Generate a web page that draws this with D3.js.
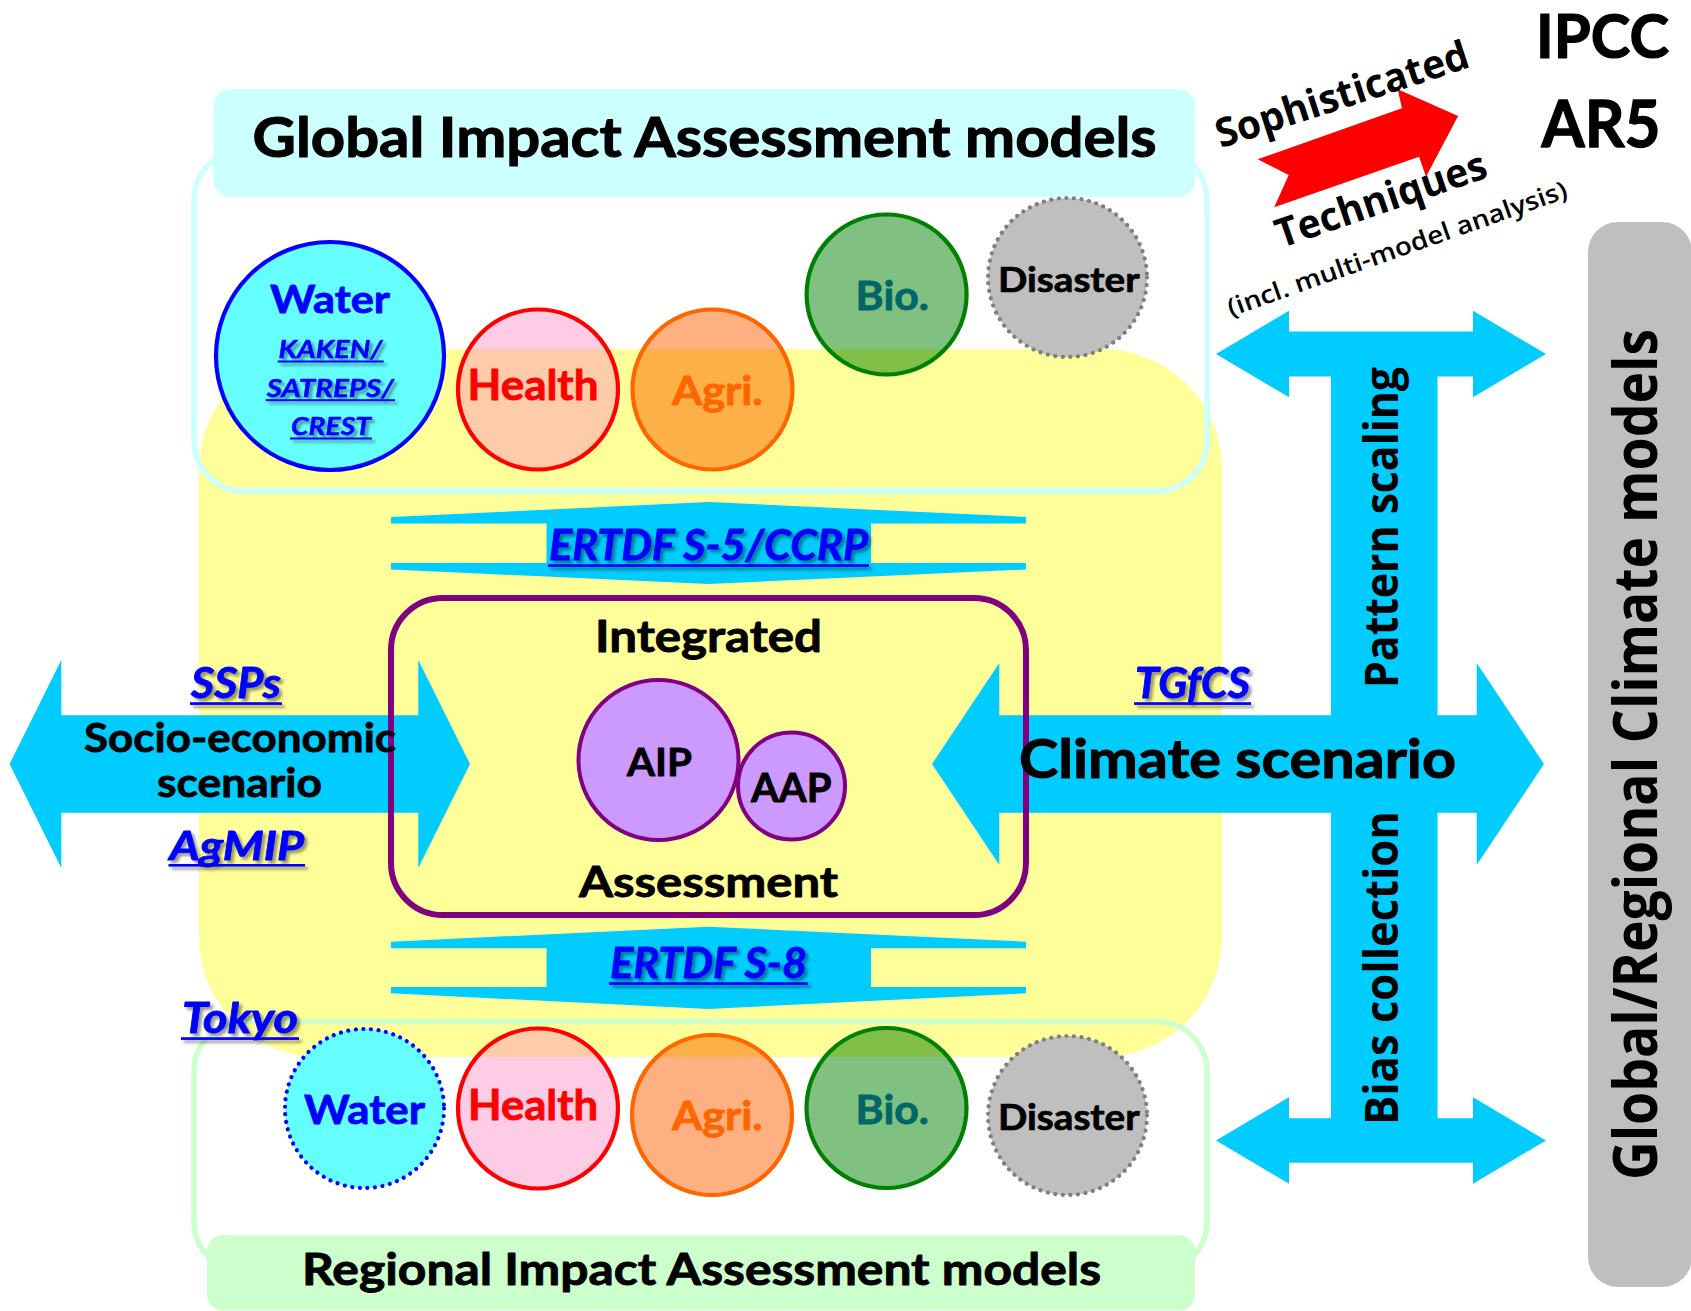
<!DOCTYPE html>
<html>
<head>
<meta charset="utf-8">
<script src="https://cdn.jsdelivr.net/npm/d3@7"></script>
<style>
  html, body { margin: 0; padding: 0; background: #fff; }
  svg { display: block; }
</style>
</head>
<body>
<svg id="chart" width="1691" height="1311"></svg>
<script>
// ---------------- data ----------------
const sectors = ["Water", "Health", "Agri.", "Bio.", "Disaster"];
const globalProjects = ["KAKEN/", "SATREPS/", "CREST"];
const titles = ["Global Impact Assessment models", "Regional Impact Assessment models"];
const iaLabels = ["Integrated", "Assessment"];
const iaModels = ["AIP", "AAP"];
const scenarioLabels = ["Socio-economic", "scenario"];
const climateLabel = ["Climate scenario"];
const linkLabels = ["SSPs", "AgMIP", "TGfCS", "ERTDF S-5/CCRP", "ERTDF S-8", "Tokyo"];
const techLabels = ["Sophisticated", "Techniques", "(incl. multi-model analysis)"];
const verticalLabels = ["Pattern scaling", "Bias collection"];
const gcmLabel = ["Global/Regional Climate models"];
const ipccLabels = ["IPCC", "AR5"];

// ---------------- layout & styles ----------------
const W = 1691, H = 1311;
const C = {
  yellow: "#FFFF99", blue: "#00CCFF", link: "#0000FF", purple: "#800080",
  lilac: "#CC99FF", gHead: "#CCFFFF", rHead: "#CCFFCC", gray: "#BFBFBF", red: "#FF0000"
};
const sectorStyle = {
  "Water":    {fill: "#66FFFF", fillY: "#66FFFF", stroke: "#0000FF", text: "#0000FF"},
  "Health":   {fill: "#FFCCE5", fillY: "#FFCCAA", stroke: "#FF0000", text: "#FF0000"},
  "Agri.":    {fill: "#FFB080", fillY: "#FDAF48", stroke: "#FF6600", text: "#FF6600"},
  "Bio.":     {fill: "#80C080", fillY: "#80C048", stroke: "#008000", text: "#006666"},
  "Disaster": {fill: "#BFBFBF", fillY: "#BFBFBF", stroke: "#7F7F7F", text: "#000000"}
};
const topRow = {
  "Water":    {cx: 330,    cy: 356,   r: 114, tx: 330,   ty: 313,   tw: 120,   cap: 28,  dotted: false},
  "Health":   {cx: 538,    cy: 389.5, r: 80,  tx: 533,   ty: 400,   tw: 131,   cap: 30,  dotted: false},
  "Agri.":    {cx: 712.5,  cy: 389.5, r: 80,  tx: 717.3, ty: 405,   tw: 90.6,  cap: 28.3, dotted: false},
  "Bio.":     {cx: 886.6,  cy: 294.5, r: 80,  tx: 892.3, ty: 310,   tw: 73.4,  cap: 28.3, dotted: false},
  "Disaster": {cx: 1067.5, cy: 277.5, r: 79.5, tx: 1068.8, ty: 291.7, tw: 141.6, cap: 25, dotted: true}
};
const botRow = {
  "Water":    {cx: 364.5,  cy: 1108.5, r: 79.5, tx: 364.5, ty: 1124, tw: 121,  cap: 29,  dotted: true},
  "Health":   {cx: 538,    cy: 1108.5, r: 80,  tx: 533,   ty: 1120, tw: 130,   cap: 30,  dotted: false},
  "Agri.":    {cx: 712,    cy: 1115,   r: 80,  tx: 717.3, ty: 1130, tw: 90.6,  cap: 28.3, dotted: false},
  "Bio.":     {cx: 886.5,  cy: 1108,   r: 80,  tx: 892.3, ty: 1124, tw: 73.4,  cap: 29,  dotted: false},
  "Disaster": {cx: 1067.5, cy: 1115.5, r: 79.5, tx: 1068.8, ty: 1130, tw: 141.6, cap: 26, dotted: true}
};
const yellowBox = {x: 199, y: 349, w: 1023, h: 708, r: 120};

const svg = d3.select("#chart");
const defs = svg.append("defs");
const f = defs.append("filter").attr("id", "shadow").attr("x", "-10%").attr("y", "-20%").attr("width", "130%").attr("height", "160%");
f.append("feDropShadow").attr("dx", 3).attr("dy", 3).attr("stdDeviation", 1.8)
  .attr("flood-color", "#000").attr("flood-opacity", 0.4);
defs.append("clipPath").attr("id", "yclip").append("rect")
  .attr("x", yellowBox.x).attr("y", yellowBox.y).attr("width", yellowBox.w).attr("height", yellowBox.h)
  .attr("rx", yellowBox.r).attr("ry", yellowBox.r);

const CAL = "Lato, 'Noto Sans', sans-serif";
const OPS = "'Open Sans', 'Noto Sans', sans-serif";
const capLato = 0.7165;

// text helper: fits natural text into target width with textLength
function label(g, o) {
  const fam = o.family || CAL;
  const t = g.append("text")
    .attr("x", o.x).attr("y", o.y)
    .attr("font-family", fam)
    .attr("font-weight", o.weight || 700)
    .attr("font-style", o.italic ? "italic" : "normal")
    .attr("font-size", o.size)
    .attr("fill", o.fill || "#000")
    .text(o.text);
  if (fam === CAL) {
    // Calibri bold is heavier than Lato bold: thicken slightly
    t.attr("stroke", o.fill || "#000").attr("stroke-width", o.size * 0.02)
     .attr("stroke-linejoin", "round");
  }
  if (o.transform) t.attr("transform", o.transform);
  if (o.w) {
    t.attr("textLength", o.w).attr("lengthAdjust", "spacingAndGlyphs");
  }
  return t;
}
function linkLabel(g, text, x0, x1, base, size) {
  const gg = g.append("g").attr("filter", "url(#shadow)");
  label(gg, {text, x: x0, y: base, size, italic: true, fill: C.link, w: x1 - x0});
  gg.append("rect").attr("x", x0 - 1).attr("y", base + size * 0.1)
    .attr("width", x1 - x0 + 2).attr("height", Math.max(2, size * 0.065)).attr("fill", C.link);
}

// polygon helpers
function hDouble(x0, x1, cy, shaftHalf, headHalf, headLen) {
  return [[x0, cy], [x0 + headLen, cy - headHalf], [x0 + headLen, cy - shaftHalf],
          [x1 - headLen, cy - shaftHalf], [x1 - headLen, cy - headHalf], [x1, cy],
          [x1 - headLen, cy + headHalf], [x1 - headLen, cy + shaftHalf],
          [x0 + headLen, cy + shaftHalf], [x0 + headLen, cy + headHalf]];
}
function vDouble(xL, xR, sL, sR, apexT, sideT, baseT, baseB, sideB, apexB) {
  const cx = (xL + xR) / 2;
  return [[xL, sideT], [cx, apexT], [xR, sideT], [xR, baseT], [sR, baseT], [sR, baseB],
          [xR, baseB], [xR, sideB], [cx, apexB], [xL, sideB], [xL, baseB], [sL, baseB],
          [sL, baseT], [xL, baseT]];
}
const line = d3.line();
function poly(g, pts, fill) {
  g.append("path").attr("d", line(pts) + "Z").attr("fill", fill);
}

// ---------------- background shapes ----------------
const bg = svg.append("g");
bg.append("rect").attr("x", yellowBox.x).attr("y", yellowBox.y)
  .attr("width", yellowBox.w).attr("height", yellowBox.h)
  .attr("rx", yellowBox.r).attr("ry", yellowBox.r).attr("fill", C.yellow);

// frames
bg.append("rect").attr("x", 194).attr("y", 150).attr("width", 1013).attr("height", 341)
  .attr("rx", 50).attr("fill", "none").attr("stroke", C.gHead).attr("stroke-width", 5.5);
bg.append("rect").attr("x", 194).attr("y", 1021.5).attr("width", 1013).attr("height", 250)
  .attr("rx", 50).attr("fill", "none").attr("stroke", C.rHead).attr("stroke-width", 5.5);

// headers
bg.append("rect").attr("x", 213.5).attr("y", 89).attr("width", 981.5).attr("height", 108)
  .attr("rx", 17).attr("fill", C.gHead);
bg.append("rect").attr("x", 207).attr("y", 1235).attr("width", 988).attr("height", 75.5)
  .attr("rx", 16).attr("fill", C.rHead);

// gray GCM box
bg.append("rect").attr("x", 1588).attr("y", 222).attr("width", 104).attr("height", 1065)
  .attr("rx", 30).attr("fill", C.gray);

// ---------------- sector circles ----------------
function drawRow(rowLayout, cls) {
  const g = svg.append("g").attr("class", cls);
  const items = sectors.map(s => Object.assign({name: s}, rowLayout[s], sectorStyle[s]));
  const sel = g.selectAll("g.sec").data(items).join("g").attr("class", "sec");
  sel.append("circle").attr("cx", d => d.cx).attr("cy", d => d.cy).attr("r", d => d.r)
    .attr("fill", d => d.fill);
  sel.append("circle").attr("cx", d => d.cx).attr("cy", d => d.cy).attr("r", d => d.r)
    .attr("fill", d => d.fillY).attr("clip-path", "url(#yclip)");
  sel.append("circle").attr("cx", d => d.cx).attr("cy", d => d.cy).attr("r", d => d.r)
    .attr("fill", "none").attr("stroke", d => d.stroke)
    .attr("stroke-width", d => d.dotted ? 4.2 : 4.2)
    .attr("stroke-linecap", d => d.dotted ? "round" : "butt")
    .attr("stroke-dasharray", d => d.dotted ? "0.01 7.6" : null);
  sel.each(function(d) {
    const size = d.cap / capLato;
    label(d3.select(this), {text: d.name, x: d.tx - d.tw / 2, y: d.ty, size, fill: d.text, w: d.tw});
  });
  return g;
}
const topG = drawRow(topRow, "global");
drawRow(botRow, "regional");

// projects inside global Water circle
const projPos = [
  {x0: 278.6, x1: 382.7, base: 358},
  {x0: 266.7, x1: 394,   base: 396.7},
  {x0: 291,   x1: 371,   base: 435}
];
globalProjects.forEach((p, i) => linkLabel(topG, p, projPos[i].x0, projPos[i].x1, projPos[i].base, 25));

// ---------------- arrows ----------------
const ar = svg.append("g");
// ERTDF vertical double arrows
poly(ar, vDouble(391, 1026, 546.5, 871, 502, 517, 523.5, 563, 569.5, 584), C.blue);
poly(ar, vDouble(391, 1026, 546.5, 871, 926.7, 941.7, 948.3, 987, 993.3, 1009), C.blue);
// socio-economic
poly(ar, hDouble(9.6, 470, 764, 48.8, 104, 51.7), C.blue);
// climate scenario
poly(ar, hDouble(932, 1544, 764, 48.8, 101, 67.3), C.blue);
// pattern scaling / bias collection
ar.append("rect").attr("x", 1331).attr("y", 370).attr("width", 106.5).attr("height", 755).attr("fill", C.blue);
poly(ar, hDouble(1216, 1546, 354, 22.5, 43.2, 73), C.blue);
poly(ar, hDouble(1216, 1546, 1140.5, 22.2, 43.2, 73), C.blue);

// red "sophisticated" arrow
poly(ar, [[1257.6, 159.3], [1401.9, 108.3], [1397.7, 89.3], [1458.1, 116], [1426, 176.7],
          [1419.1, 156.7], [1274.2, 207.3], [1288.7, 175]], C.red);

// ---------------- integrated assessment box ----------------
const ia = svg.append("g");
ia.append("rect").attr("x", 391).attr("y", 598).attr("width", 635).attr("height", 317)
  .attr("rx", 52).attr("fill", "none").attr("stroke", C.purple).attr("stroke-width", 6);
const iaCirc = [{cx: 658.5, cy: 760, r: 80}, {cx: 791.5, cy: 786, r: 53.5}];
ia.selectAll("circle.m").data(iaModels.map((m, i) => Object.assign({name: m}, iaCirc[i])))
  .join("circle").attr("class", "m")
  .attr("cx", d => d.cx).attr("cy", d => d.cy).attr("r", d => d.r)
  .attr("fill", C.lilac).attr("stroke", C.purple).attr("stroke-width", 4);
label(ia, {text: iaModels[0], x: 627, y: 776, size: 28 / capLato, w: 65});
label(ia, {text: iaModels[1], x: 751, y: 801.7, size: 28.7 / capLato, w: 80.5});
label(ia, {text: iaLabels[0], x: 595, y: 651.7, size: 31.7 / capLato, w: 227});
label(ia, {text: iaLabels[1], x: 579, y: 896.7, size: 29.5 / capLato, w: 259});

// ---------------- texts ----------------
const tx = svg.append("g");
label(tx, {text: titles[0], x: 252.6, y: 156.7, size: 40 / capLato, w: 904});
label(tx, {text: titles[1], x: 302, y: 1285, size: 32 / capLato, w: 799});
label(tx, {text: scenarioLabels[0], x: 84, y: 752, size: 29 / capLato, w: 312});
label(tx, {text: scenarioLabels[1], x: 157, y: 797, size: 29 / capLato, w: 165});
label(tx, {text: climateLabel[0], x: 1019, y: 778, size: 38 / capLato, w: 437});
label(tx, {text: ipccLabels[0], x: 1536, y: 58, size: 44 / capLato, w: 133});
label(tx, {text: ipccLabels[1], x: 1541.6, y: 147, size: 47 / capLato, w: 119});

// link labels
const linkPos = [
  {x0: 191,   x1: 281,   base: 698,  size: 42},
  {x0: 169.5, x1: 304,   base: 860,  size: 40},
  {x0: 1135,  x1: 1250,  base: 698,  size: 42},
  {x0: 549,   x1: 868,   base: 560,  size: 42},
  {x0: 610,   x1: 807,   base: 978,  size: 42},
  {x0: 182,   x1: 298,   base: 1033, size: 42}
];
linkLabels.forEach((l, i) => linkLabel(tx, l, linkPos[i].x0, linkPos[i].x1, linkPos[i].base, linkPos[i].size));

// rotated technique labels
const techPos = [
  {x: 1220.7, y: 148.3, a: -18.0, len: 264,   size: 40, weight: 700},
  {x: 1281,   y: 248.3, a: -18.9, len: 220.7, size: 40, weight: 700},
  {x: 1231,   y: 316.7, a: -19.5, len: 358.7, size: 25, weight: 600}
];
techLabels.forEach((t, i) => {
  const p = techPos[i];
  label(tx, {text: t, x: 0, y: 0, size: p.size, family: OPS, weight: p.weight, w: p.len,
             transform: `translate(${p.x},${p.y}) rotate(${p.a})`});
});

// vertical labels
const vPos = [
  {x: 1398, y: 688,  len: 321, size: 46},
  {x: 1398, y: 1125, len: 314, size: 46}
];
verticalLabels.forEach((t, i) => {
  const p = vPos[i];
  label(tx, {text: t, x: 0, y: 0, size: p.size, family: OPS, w: p.len,
             transform: `translate(${p.x},${p.y}) rotate(-90)`});
});
label(tx, {text: gcmLabel[0], x: 0, y: 0, size: 60, family: OPS, w: 851,
           transform: `translate(1657,1180) rotate(-90)`});
</script>
</body>
</html>
